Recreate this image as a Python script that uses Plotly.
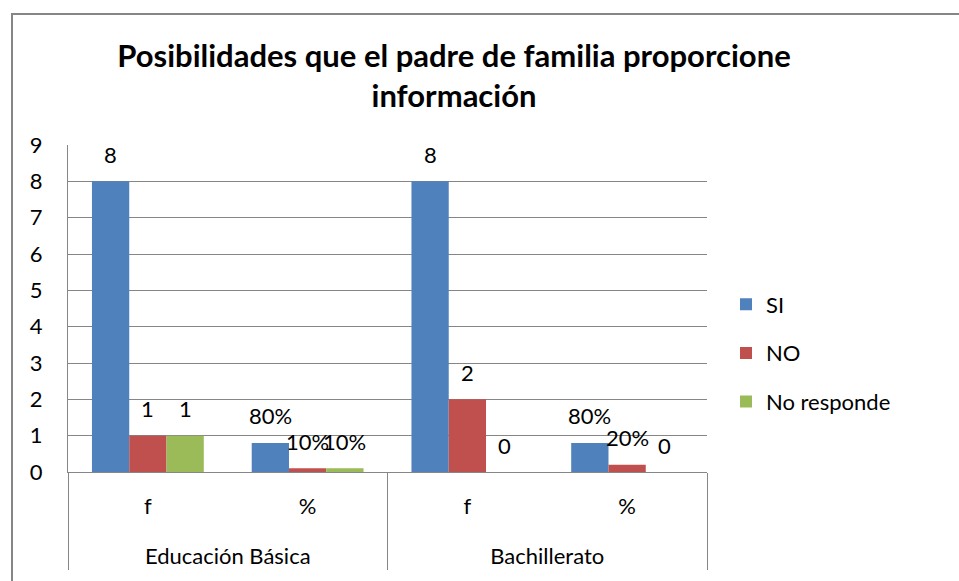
import plotly.graph_objects as go

groups = ["Educación Básica", "Educación Básica", "Bachillerato", "Bachillerato"]
subcats = ["f", "%", "f", "%"]
series_names = ["SI", "NO", "No responde"]
si_vals = [8, 0.8, 8, 0.8]
no_vals = [1, 0.1, 2, 0.2]
nr_vals = [1, 0.1, 0, 0]
si_labels = ["8", "80%", "8", "80%"]
no_labels = ["1", "10%", "2", "20%"]
nr_labels = ["1", "10%", "0", "0"]
colors = ["#4F81BD", "#C0504D", "#9BBB59"]
y_ticks = [0, 1, 2, 3, 4, 5, 6, 7, 8, 9]
title_text = "Posibilidades que el padre de familia proporcione<br>información"

FONT = "Lato"
FS = 22
W, H = 959, 581
L, R, T, B = 68, 252, 145, 109
BARGAP = 0.3

all_vals = [si_vals, no_vals, nr_vals]
all_labels = [si_labels, no_labels, nr_labels]

# first-level labels get an empty second line so the group row sits lower
subcat_text = [s + "<br><span style='font-size:53px'>&nbsp;</span>" for s in subcats]

fig = go.Figure()
for name, vals, col in zip(series_names, all_vals, colors):
    fig.add_trace(go.Bar(
        name=name, x=[groups, subcat_text], y=vals,
        marker=dict(color=col, line=dict(width=0)),
        legendgroup=name,
    ))

# data labels placed at bar tops (category index + group offset)
nser = len(series_names)
bw = (1 - BARGAP) / nser
for j, (vals, labels) in enumerate(zip(all_vals, all_labels)):
    for i, (v, lab) in enumerate(zip(vals, labels)):
        fig.add_annotation(x=i + (j - (nser - 1) / 2) * bw, y=v, xref="x", yref="y",
                           text=lab, showarrow=False, yanchor="middle", yshift=27,
                           font=dict(family=FONT, size=FS, color="#000"))

pw = W - L - R
ph = H - T - B
fig.add_shape(type="rect", xref="paper", yref="paper",
              x0=(12 - L) / pw, x1=(990 - L) / pw,
              y0=-(620 - (H - B)) / ph, y1=(H - B - 14) / ph,
              line=dict(color="#868686", width=2), fillcolor="rgba(0,0,0,0)", layer="below")

fig.update_layout(
    width=W, height=H,
    margin=dict(l=L, r=R, t=T, b=B),
    paper_bgcolor="white", plot_bgcolor="white",
    barmode="group", bargap=BARGAP, bargroupgap=0,
    font=dict(family=FONT, size=FS, color="#000"),
    title=dict(text=title_text, x=454 / W, xref="container", xanchor="center",
               y=1 - 66.5 / H, yref="container", yanchor="middle",
               font=dict(family=FONT, size=31, color="#000", weight="bold")),
    legend=dict(x=(726 - L) / pw, xanchor="left", xref="paper",
                y=(H - B - 353) / ph, yanchor="middle",
                font=dict(family=FONT, size=FS), tracegroupgap=17,
                traceorder="grouped", itemwidth=30, bgcolor="rgba(0,0,0,0)"),
    xaxis=dict(type="multicategory", showline=True, linecolor="#868686",
               showdividers=True, dividercolor="#868686", dividerwidth=1,
               tickfont=dict(family=FONT, size=FS), ticks="", ticklabelstandoff=15,
               showgrid=False, automargin=False),
    yaxis=dict(range=[0, 9], tickvals=y_ticks, showgrid=True, gridcolor="#868686",
               gridwidth=1, showline=True, linecolor="#868686", zeroline=False,
               tickfont=dict(family=FONT, size=FS), ticks="", ticklabelstandoff=20,
               automargin=False),
)
fig.write_html("out.html", config={"displayModeBar": False},
               post_script="document.body.style.margin='0';")
